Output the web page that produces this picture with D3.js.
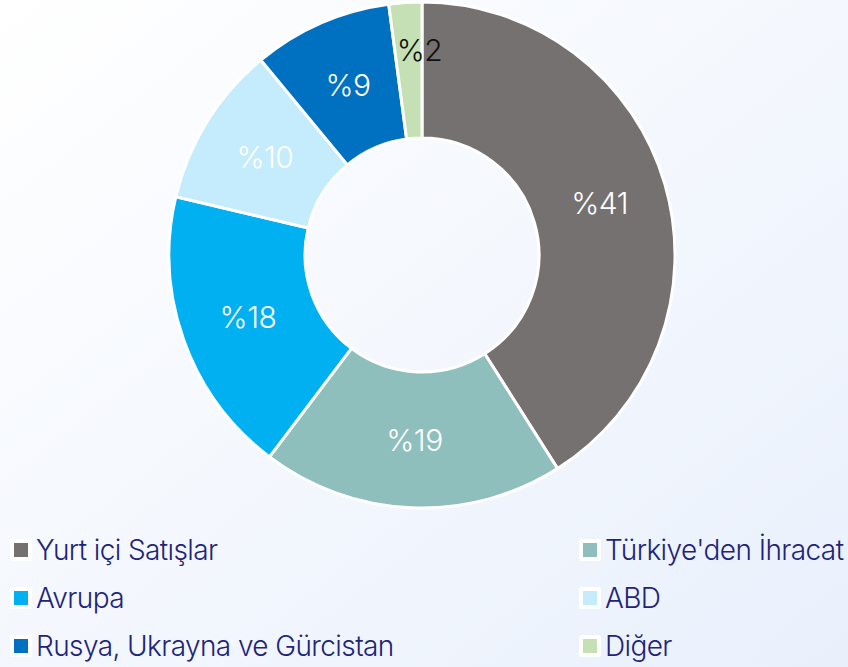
<!DOCTYPE html>
<html lang="tr">
<head>
  <meta charset="UTF-8" />
  <title>Satış Dağılımı</title>
  <script src="https://d3js.org/d3.v7.min.js"></script>
  <style>
    html, body { margin: 0; padding: 0; }
    body { width: 848px; height: 667px; overflow: hidden; }
    svg { display: block; font-family: Inter, "Noto Sans", sans-serif; }
  </style>
</head>
<body>
  <div id="chart"></div>
  <script>
    const categories = ["Yurt içi Satışlar", "Türkiye'den İhracat", "Avrupa", "ABD", "Rusya, Ukrayna ve Gürcistan", "Diğer"];
    const values = [41, 19.3, 18.4, 10.3, 8.9, 2.1];
    const colors = ["#757170", "#8fbfbc", "#00b0f0", "#c4ecfc", "#0070c0", "#c5e0b4"];
    const labelColors = ["#fff", "#fff", "#fff", "#fff", "#fff", "#111"];

    const width = 848, height = 667;
    const cx = 422, cy = 255, outerR = 253, innerR = 117;

    const svg = d3.select("#chart").append("svg").attr("width", width).attr("height", height);

    const grad = svg.append("defs").append("linearGradient").attr("id", "bg")
      .attr("x1", "0").attr("y1", "0").attr("x2", "1").attr("y2", "1");
    grad.append("stop").attr("offset", "0%").attr("stop-color", "#ffffff");
    grad.append("stop").attr("offset", "100%").attr("stop-color", "#e9f0fc");
    svg.append("rect").attr("width", width).attr("height", height).attr("fill", "url(#bg)");

    const pie = d3.pie().sort(null).value(d => d)(values);
    const arc = d3.arc().innerRadius(innerR).outerRadius(outerR);
    const g = svg.append("g").attr("transform", `translate(${cx},${cy})`);

    g.selectAll("path").data(pie).enter().append("path")
      .attr("d", arc)
      .attr("fill", (d, i) => colors[i])
      .attr("stroke", "#fff").attr("stroke-width", 3);

    // small slices get their label pushed further out
    const smallArc = d3.arc().innerRadius(205).outerRadius(205);
    g.selectAll("text.lbl").data(pie).enter().append("text")
      .attr("class", "lbl")
      .attr("transform", d => {
        const small = d.endAngle - d.startAngle < 0.2;
        const c = small ? smallArc.centroid(d) : arc.centroid(d);
        if (small) c[0] += 11;
        return `translate(${c})`;
      })
      .attr("text-anchor", "middle").attr("dy", "0.36em")
      .attr("fill", (d, i) => labelColors[i])
      .style("font-size", "30px").style("font-weight", 300).style("letter-spacing", "-0.5px")
      .text(d => "%" + Math.round(d.data));

    const legend = svg.append("g");
    const colX = [14, 583], rowY = [550, 598, 646];
    categories.forEach((name, i) => {
      const x = colX[i % 2], y = rowY[Math.floor(i / 2)];
      const item = legend.append("g").attr("transform", `translate(${x},${y})`);
      item.append("rect").attr("x", -4).attr("y", -11).attr("width", 22).attr("height", 22).attr("rx", 2).attr("fill", "#fff");
      item.append("rect").attr("x", 0).attr("y", -7).attr("width", 14).attr("height", 14).attr("fill", colors[i]);
      item.append("text").attr("x", 22).attr("dy", "0.36em")
        .attr("fill", "#1e2478")
        .style("font-size", "28px").style("font-weight", 300).style("letter-spacing", "-0.6px")
        .text(name);
    });
  </script>
</body>
</html>
